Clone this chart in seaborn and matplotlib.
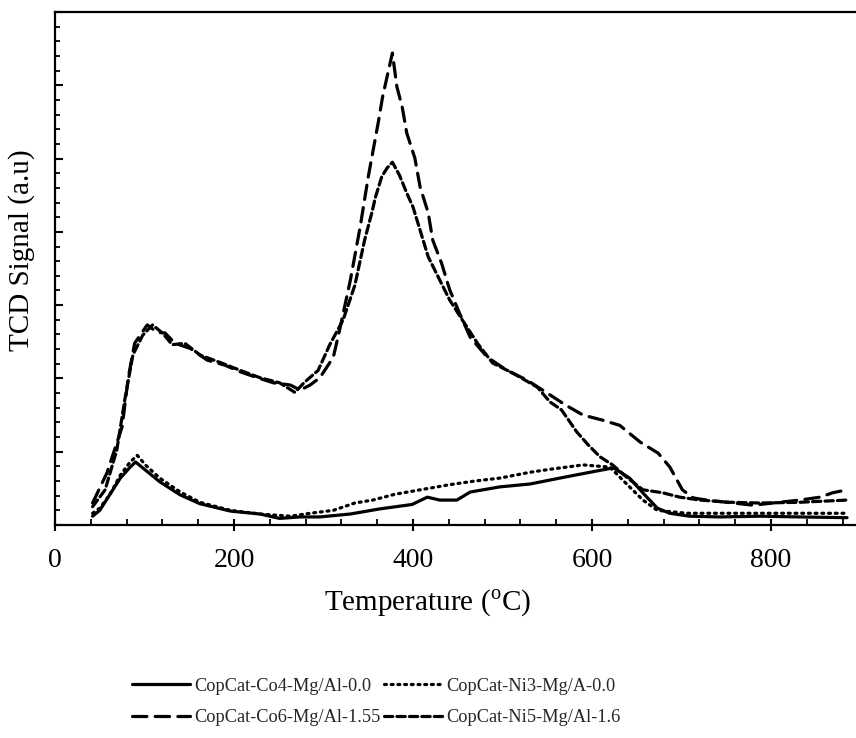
import matplotlib
matplotlib.use("Agg")
import matplotlib.pyplot as plt
import seaborn as sns
import numpy as np
import pandas as pd
from matplotlib.ticker import MultipleLocator, NullFormatter

# ---------------- data ----------------
labels = ["CopCat-Co4-Mg/Al-0.0", "CopCat-Ni3-Mg/A-0.0",
          "CopCat-Co6-Mg/Al-1.55", "CopCat-Ni5-Mg/Al-1.6"]

co4_T = [42, 50, 61, 73, 84, 90, 101, 117, 140, 162, 196, 229, 251, 274, 296,
         330, 363, 399, 416, 430, 449, 464, 497, 531, 564, 598, 624, 642, 659,
         673, 687, 709, 743, 788, 832, 885]
co4_v = [0.12, 0.20, 0.41, 0.64, 0.79, 0.86, 0.75, 0.59, 0.41, 0.29, 0.19, 0.15,
         0.09, 0.11, 0.11, 0.15, 0.22, 0.28, 0.38, 0.34, 0.34, 0.45, 0.52, 0.56,
         0.64, 0.72, 0.78, 0.64, 0.41, 0.23, 0.16, 0.12, 0.11, 0.12, 0.11, 0.10]

ni3_T = [42, 50, 61, 73, 84, 92, 101, 117, 140, 162, 196, 229, 263, 285, 311,
         335, 355, 380, 408, 441, 469, 497, 531, 553, 590, 620, 642, 657, 673,
         706, 758, 832, 885]
ni3_v = [0.16, 0.23, 0.41, 0.68, 0.86, 0.95, 0.82, 0.64, 0.45, 0.31, 0.20, 0.15,
         0.12, 0.16, 0.20, 0.30, 0.34, 0.42, 0.48, 0.55, 0.60, 0.64, 0.72, 0.76,
         0.82, 0.79, 0.52, 0.34, 0.20, 0.16, 0.16, 0.16, 0.16]

co6_T = [42, 58, 75, 82, 89, 103, 114, 123, 134, 151, 170, 190, 207, 226, 244,
         263, 274, 285, 296, 311, 318, 330, 341, 350, 361, 366, 372, 377, 382,
         388, 393, 402, 408, 417, 422, 432, 441, 452, 464, 483, 505, 527, 550,
         570, 590, 612, 631, 654, 674, 687, 701, 713, 728, 758, 780, 802, 832,
         855, 869, 885]
co6_v = [0.30, 0.71, 1.34, 2.02, 2.48, 2.73, 2.63, 2.62, 2.48, 2.41, 2.25, 2.18,
         2.09, 2.01, 1.94, 1.91, 1.84, 1.91, 2.01, 2.29, 2.66, 3.34, 4.07, 4.75,
         5.48, 5.84, 6.17, 6.44, 5.98, 5.70, 5.35, 5.01, 4.61, 4.26, 3.89, 3.57,
         3.21, 2.89, 2.56, 2.29, 2.11, 1.98, 1.80, 1.64, 1.50, 1.43, 1.36, 1.13,
         0.98, 0.79, 0.48, 0.37, 0.34, 0.30, 0.27, 0.30, 0.34, 0.38, 0.44, 0.48]

ni5_T = [42, 56, 69, 78, 87, 98, 109, 120, 131, 145, 162, 184, 207, 229, 251,
         268, 279, 294, 307, 322, 335, 346, 354, 358, 365, 371, 377, 385, 393,
         400, 408, 417, 430, 441, 455, 472, 489, 512, 539, 553, 566, 583, 596,
         609, 623, 639, 657, 679, 698, 721, 754, 788, 832, 885]
ni5_v = [0.25, 0.48, 1.02, 1.71, 2.32, 2.59, 2.73, 2.62, 2.46, 2.48, 2.32, 2.22,
         2.11, 2.01, 1.94, 1.81, 1.95, 2.11, 2.46, 2.80, 3.27, 3.89, 4.26, 4.47,
         4.75, 4.87, 4.95, 4.77, 4.53, 4.34, 4.02, 3.66, 3.34, 3.07, 2.80, 2.48,
         2.21, 2.07, 1.88, 1.68, 1.57, 1.27, 1.09, 0.93, 0.82, 0.65, 0.48, 0.44,
         0.38, 0.34, 0.31, 0.30, 0.31, 0.34]

x_ticks = [0, 200, 400, 600, 800]

# ---------------- styling ----------------
sns.set_theme(style="white")
plt.rcParams["font.family"] = ["Liberation Serif", "DejaVu Serif"]
plt.rcParams["mathtext.fontset"] = "custom"
plt.rcParams["mathtext.rm"] = "Liberation Serif"

fig = plt.figure(figsize=(8.56, 7.38), dpi=100)
ax = fig.add_axes([55 / 856, 213 / 738, 1 - 55 / 856, (525 - 12) / 738])

series = [
    (co4_T, co4_v, "-"),
    (ni3_T, ni3_v, (0, (0.6, 1.5))),
    (co6_T, co6_v, (0, (4.5, 2.6))),
    (ni5_T, ni5_v, (0, (2.6, 1.3))),
]
for (T, v, ls), lab in zip(series, labels):
    sns.lineplot(x=T, y=v, ax=ax, color="black", linewidth=2.3, linestyle=ls,
                 sort=False, estimator=None, label=lab, legend=False,
                 dash_capstyle="round", solid_capstyle="round")

ax.set_xlim(0, 895)
ax.set_ylim(0, 7)
ax.set_xticks(x_ticks)
ax.xaxis.set_minor_locator(MultipleLocator(40))
ax.yaxis.set_major_locator(MultipleLocator(1))
ax.yaxis.set_minor_locator(MultipleLocator(0.2))
ax.yaxis.set_major_formatter(NullFormatter())

for side in ["left", "bottom", "top"]:
    ax.spines[side].set_visible(True)
    ax.spines[side].set_color("black")
    ax.spines[side].set_linewidth(1.6)
ax.spines["right"].set_visible(False)

ax.tick_params(axis="x", which="major", direction="inout", length=9, width=1.5,
               colors="black", labelsize=20, pad=12, bottom=True)
ax.tick_params(axis="x", which="minor", direction="in", length=4, width=1.3,
               colors="black", bottom=True)
ax.tick_params(axis="y", which="major", direction="in", length=5.5, width=1.5,
               colors="black", left=True)
ax.tick_params(axis="y", which="minor", direction="in", length=3.5, width=1.3,
               colors="black", left=True)

ax.set_xlabel("Temperature ($^{\\mathrm{o}}$C)", fontsize=21, color="black")
ax.xaxis.set_label_coords((427 - 55) / 801, -(588 - 525) / 513)
ax.set_ylabel("TCD Signal (a.u)", fontsize=21, color="black")
ax.yaxis.set_label_coords(-(55 - 35) / 801, (525 - 250) / 513)

handles, labs = ax.get_legend_handles_labels()
order = [0, 2, 1, 3]  # row-wise: Co4, Ni3 / Co6, Ni5
fig.legend([handles[i] for i in order], [labs[i] for i in order],
           loc="center", ncol=2,
           bbox_to_anchor=(376 / 856, 1 - 702 / 738), frameon=False,
           fontsize=13.2, handlelength=3.2, handletextpad=0.2,
           columnspacing=0.2, labelspacing=0.8)

fig.savefig("out.png", dpi=100)
